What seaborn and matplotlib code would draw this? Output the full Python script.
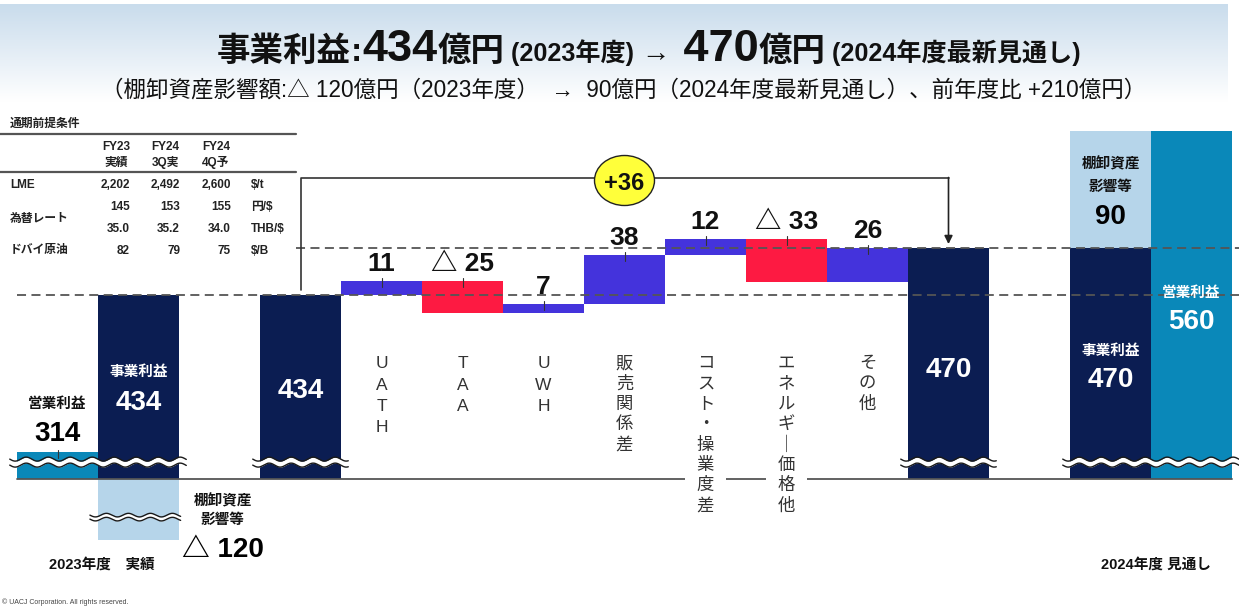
import numpy as np
import matplotlib
matplotlib.use("Agg")
import matplotlib.pyplot as plt
import matplotlib.transforms as mtransforms
from matplotlib.patches import Ellipse, Rectangle
import seaborn as sns

# ---------------- data ----------------
fy23_operating_profit = 314
fy23_business_profit = 434
fy23_inventory = -120
fy24_business_profit = 470
fy24_inventory = 90
fy24_operating_profit = 560
bridge_total = 36

bridge_labels = ["UATH", "TAA", "UWH", "販売関係差", "コスト・操業度差", "エネルギー価格他", "その他"]
bridge_values = [11, -25, 7, 38, 12, -33, 26]

title_runs_text = ["事業利益", ":", "434", "億円", " (2023年度)", " →", " 470", "億円", " (2024年度最新見通し)"]
subtitle_text = "（棚卸資産影響額:△ 120億円（2023年度）  →  90億円（2024年度最新見通し）、前年度比 +210億円）"

table_title = "通期前提条件"
table_col_top = ["FY23", "FY24", "FY24"]
table_col_bottom = ["実績", "3Q実", "4Q予"]
table_row_labels = ["LME", "為替レート", "ドバイ原油"]
table_values = [["2,202", "2,492", "2,600"],
                ["145", "153", "155"],
                ["35.0", "35.2", "34.0"],
                ["82", "79", "75"]]
table_units = ["$/t", "円/$", "THB/$", "$/B"]

label_fy23 = "2023年度　実績"
label_fy24 = "2024年度 見通し"
label_op = "営業利益"
label_biz = "事業利益"
label_inv = ["棚卸資産", "影響等"]
footer = "© UACJ Corporation. All rights reserved."

# ---------------- style ----------------
sns.set_theme(style="white")
FAM = ["Liberation Sans", "Noto Sans CJK JP"]
plt.rcParams["font.family"] = FAM

NAVY = "#0b1d52"
TEAL = "#0a88b9"
LIGHT = "#b6d5ea"
UP = "#4433dc"
DOWN = "#fd1a42"
YELLOW = "#ffff3a"
DARK = "#1a1a1a"

W, H = 1239, 606
fig = plt.figure(figsize=(W / 100, H / 100), dpi=100)
ax = fig.add_axes([0, 0, 1, 1])
ov = fig.add_axes([0, 0, 1, 1])
for a in (ax, ov):
    a.axis("off")

# layout of the value axis (broken axis)
SLOT_PX = 81.0
X0_PX = 17.0
PX_PER_UNIT = 47.0 / 36.0
REF_PX = 295.0
AXIS_BASE = 293.0      # value at which the broken baseline is drawn
WAVE_V = 306.0         # level of the break marks
INV_BROKEN_DEPTH = 47  # drawn depth of the broken inventory bar
BRACKET_V = 524.0

ax.set_xlim(-X0_PX / SLOT_PX - 0.5, (W - X0_PX) / SLOT_PX - 0.5)
ax.set_ylim(fy23_business_profit - (H - REF_PX) / PX_PER_UNIT,
            fy23_business_profit + REF_PX / PX_PER_UNIT)

# header gradient
ov.set_autoscale_on(False)
ov.set_xlim(0, W)
ov.set_ylim(H, 0)
top_c = np.array(matplotlib.colors.to_rgb("#c9dcec"))
bot_c = np.array([1.0, 1.0, 1.0])
t = np.linspace(0, 1, 120)[:, None]
grad = (top_c[None, :] * (1 - t) + bot_c[None, :] * t)[:, None, :]
ov.imshow(grad, extent=(0, 1228, 102, 4), aspect="auto", zorder=0, interpolation="bilinear")

bt = mtransforms.blended_transform_factory(ax.transData, ov.transData)


def to_px(x, v):
    dx, dy = ax.transData.transform((x, v))
    return dx, H - dy


# ---------------- bars ----------------
total_slots = [0, 1, 3, 11, 13, 14]
total_vals = [fy23_operating_profit, fy23_business_profit, fy23_business_profit,
              fy24_business_profit, fy24_business_profit, fy24_operating_profit]
total_cols = [TEAL, NAVY, NAVY, NAVY, NAVY, TEAL]
ax.bar(total_slots, [v - AXIS_BASE for v in total_vals], bottom=AXIS_BASE,
       width=1.0, color=total_cols, linewidth=0, zorder=2)
# inventory effects
ax.bar([13], [fy24_inventory], bottom=fy24_business_profit, width=1.0,
       color=LIGHT, linewidth=0, zorder=2)
ax.bar([1], [-INV_BROKEN_DEPTH * np.sign(-fy23_inventory)], bottom=AXIS_BASE, width=1.0,
       color=LIGHT, linewidth=0, zorder=2)

# bridge
bridge_slots = np.arange(4, 4 + len(bridge_values))
starts = fy23_business_profit + np.concatenate([[0], np.cumsum(bridge_values)[:-1]])
ax.bar(bridge_slots, bridge_values, bottom=starts, width=1.0,
       color=[UP if v > 0 else DOWN for v in bridge_values], linewidth=0, zorder=2)

for s, b, v in zip(bridge_slots, starts, bridge_values):
    top = max(b, b + v)
    txt = f"{v}" if v > 0 else f"△ {abs(v)}"
    ax.annotate(txt, (s, top), xytext=(0, 7), textcoords="offset points",
                ha="center", va="baseline", fontsize=19, fontweight="bold",
                color="#111", family=FAM, zorder=6)
    ax.plot([s, s], [top + 2.3, top - 4.6], color="#333", lw=0.8, zorder=5)
ax.plot([0, 0], [fy23_operating_profit + 1, fy23_operating_profit - 5], color="#333", lw=0.8, zorder=5)

# reference dashed lines
xmax = ax.get_xlim()[1]
ax.plot([-0.5, xmax], [fy23_business_profit] * 2, ls=(0, (5, 3)), color="#555", lw=1.3, zorder=4)
ax.plot([2.95, xmax], [fy24_business_profit] * 2, ls=(0, (5, 3)), color="#555", lw=1.3, zorder=4)

# baseline
ax.plot([-0.5, 14.5], [AXIS_BASE] * 2, color="#555", lw=1.3, zorder=3)

# bracket with arrow
ax.plot([3, 3, 11], [fy23_business_profit + 4, BRACKET_V, BRACKET_V], color="#333", lw=1.2, zorder=4)
ax.annotate("", xy=(11, fy24_business_profit + 3), xytext=(11, BRACKET_V),
            arrowprops=dict(arrowstyle="-|>", color="#222", lw=1.2, mutation_scale=12,
                            shrinkA=0, shrinkB=0), zorder=4)
cx, cy = to_px(7, BRACKET_V)
cy += 3
ov.add_patch(Ellipse((cx, cy), 60, 50, facecolor=YELLOW, edgecolor="#222", lw=1.0, zorder=5))
ov.text(cx, cy, f"+{bridge_total}", ha="center", va="center_baseline", fontsize=17,
        fontweight="bold", color="#111", zorder=6)


# break marks (waves)
def wave(x0, x1, yc, half=3.0, amp=2.0, period=22.0, lw=1.0):
    xs = np.linspace(x0, x1, 300)
    ys = yc + amp * np.sin(2 * np.pi * (xs - x0) / period)
    ov.fill_between(xs, ys - half, ys + half, color="white", lw=0, zorder=3)
    ov.plot(xs, ys - half, color=DARK, lw=lw, zorder=4)
    ov.plot(xs, ys + half, color=DARK, lw=lw, zorder=4)


for s0, s1 in [(-0.5, 1.5), (2.5, 3.5), (10.5, 11.5), (12.5, 14.5)]:
    x0, y0 = to_px(s0 - 0.09, WAVE_V)
    x1, _ = to_px(s1 + 0.09, WAVE_V)
    wave(x0, min(x1, W), y0)
xa, _ = to_px(0.4, 0)
xb, _ = to_px(1.52, 0)
ya = to_px(1, AXIS_BASE - INV_BROKEN_DEPTH * 0.62)[1]
wave(xa, xb, ya, half=2.0, amp=1.8)

# ---------------- bar texts ----------------
def btext(slot, ypx, s, size, color, weight="bold", **kw):
    ov.text(slot, ypx, s, transform=bt, ha="center", va="center_baseline", fontsize=size,
            fontweight=weight, color=color, family=FAM, zorder=7, **kw)


btext(0, 402, label_op, 10.5, "#111")
btext(0, 431, f"{fy23_operating_profit}", 20, "#000")
btext(1, 370, label_biz, 10.5, "white")
btext(1, 400, f"{fy23_business_profit}", 20, "white")
btext(3, 388, f"{fy23_business_profit}", 20, "white")
btext(11, 367, f"{fy24_business_profit}", 20, "white")
btext(13, 163, label_inv[0], 10.5, "#111")
btext(13, 185, label_inv[1], 10.5, "#111")
btext(13, 214, f"{fy24_inventory}", 20, "#000")
btext(13, 349, label_biz, 10.5, "white")
btext(13, 377, f"{fy24_business_profit}", 20, "white")
btext(14, 291, label_op, 10.5, "white")
btext(14, 319, f"{fy24_operating_profit}", 20, "white")
btext(2.04, 500, label_inv[0], 10.5, "#111")
btext(2.04, 518, label_inv[1], 10.5, "#111")
btext(2.04, 547, f"△ {abs(fy23_inventory)}", 20, "#000")
btext(0.55, 563, label_fy23, 10.5, "#111")
btext(13.56, 563, label_fy24, 10.5, "#111")

# vertical category labels
for i, lab in enumerate(bridge_labels):
    s = bridge_slots[i]
    chars = ["｜" if c == "ー" else c for c in lab]
    step = 21.5 if lab.isascii() else 20.3
    top = 362.0
    ov.add_patch(Rectangle((s - 0.25, top - 13), 0.5, len(chars) * step + 6, transform=bt,
                           facecolor="white", edgecolor="none", zorder=5))
    for j, ch in enumerate(chars):
        ov.text(s, top + j * step, ch, transform=bt, ha="center", va="center_baseline",
                fontsize=12.5, color="#333", family=FAM, zorder=6)

# ---------------- title ----------------
renderer = fig.canvas.get_renderer()


def draw_runs(runs, cx, ybase, target_w):
    def widths(scale):
        ws = []
        for txt, size, weight in runs:
            tt = ov.text(0, ybase, txt, fontsize=size * scale, fontweight=weight, family=FAM)
            ws.append(tt.get_window_extent(renderer=renderer).width)
            tt.remove()
        return ws
    ws = widths(1.0)
    sc = target_w / sum(ws)
    ws = widths(sc)
    x = cx - sum(ws) / 2
    for (txt, size, weight), w in zip(runs, ws):
        ov.text(x, ybase, txt, fontsize=size * sc, fontweight=weight, family=FAM,
                ha="left", va="baseline", color="#111", zorder=3)
        x += w


title_sizes = [20, 20, 27, 20, 15, 17, 27, 20, 15]
title_weights = ["bold"] * 5 + ["normal"] + ["bold"] * 3
draw_runs(list(zip(title_runs_text, title_sizes, title_weights)), 649, 61, 865)
draw_runs([(subtitle_text, 16, "normal")], 624, 97, 1048)

# ---------------- table ----------------
TC = "#222"
ov.text(10, 122, table_title, fontsize=8.5, fontweight="bold", color=TC, va="center_baseline", zorder=3)
ov.plot([0, 296], [134, 134], color="#555", lw=1.6, zorder=3)
ov.plot([0, 296], [172, 172], color="#555", lw=1.6, zorder=3)
col_centers = [116, 165, 216]
col_rights = [130, 180, 231]
for c, a_, b_ in zip(col_centers, table_col_top, table_col_bottom):
    ov.text(c, 145, a_, fontsize=8.5, fontweight="bold", color=TC, ha="center", va="center_baseline")
    ov.text(c, 161, b_, fontsize=8.5, fontweight="bold", color=TC, ha="center", va="center_baseline")
row_y = [183, 206, 227, 249]
label_y = [183, 217, 249]
for ly, lab in zip(label_y, table_row_labels):
    ov.text(10, ly, lab, fontsize=8.5, fontweight="bold", color=TC, va="center_baseline")
for ry, vals, unit in zip(row_y, table_values, table_units):
    for r, v in zip(col_rights, vals):
        ov.text(r, ry, v, fontsize=8.5, fontweight="bold", color=TC, ha="right", va="center_baseline")
    ov.text(251, ry, unit, fontsize=8.5, fontweight="bold", color=TC, ha="left", va="center_baseline")

# footer
ov.text(2, 601, footer, fontsize=5, color="#444", va="center_baseline")

fig.savefig("out.png", dpi=100)
